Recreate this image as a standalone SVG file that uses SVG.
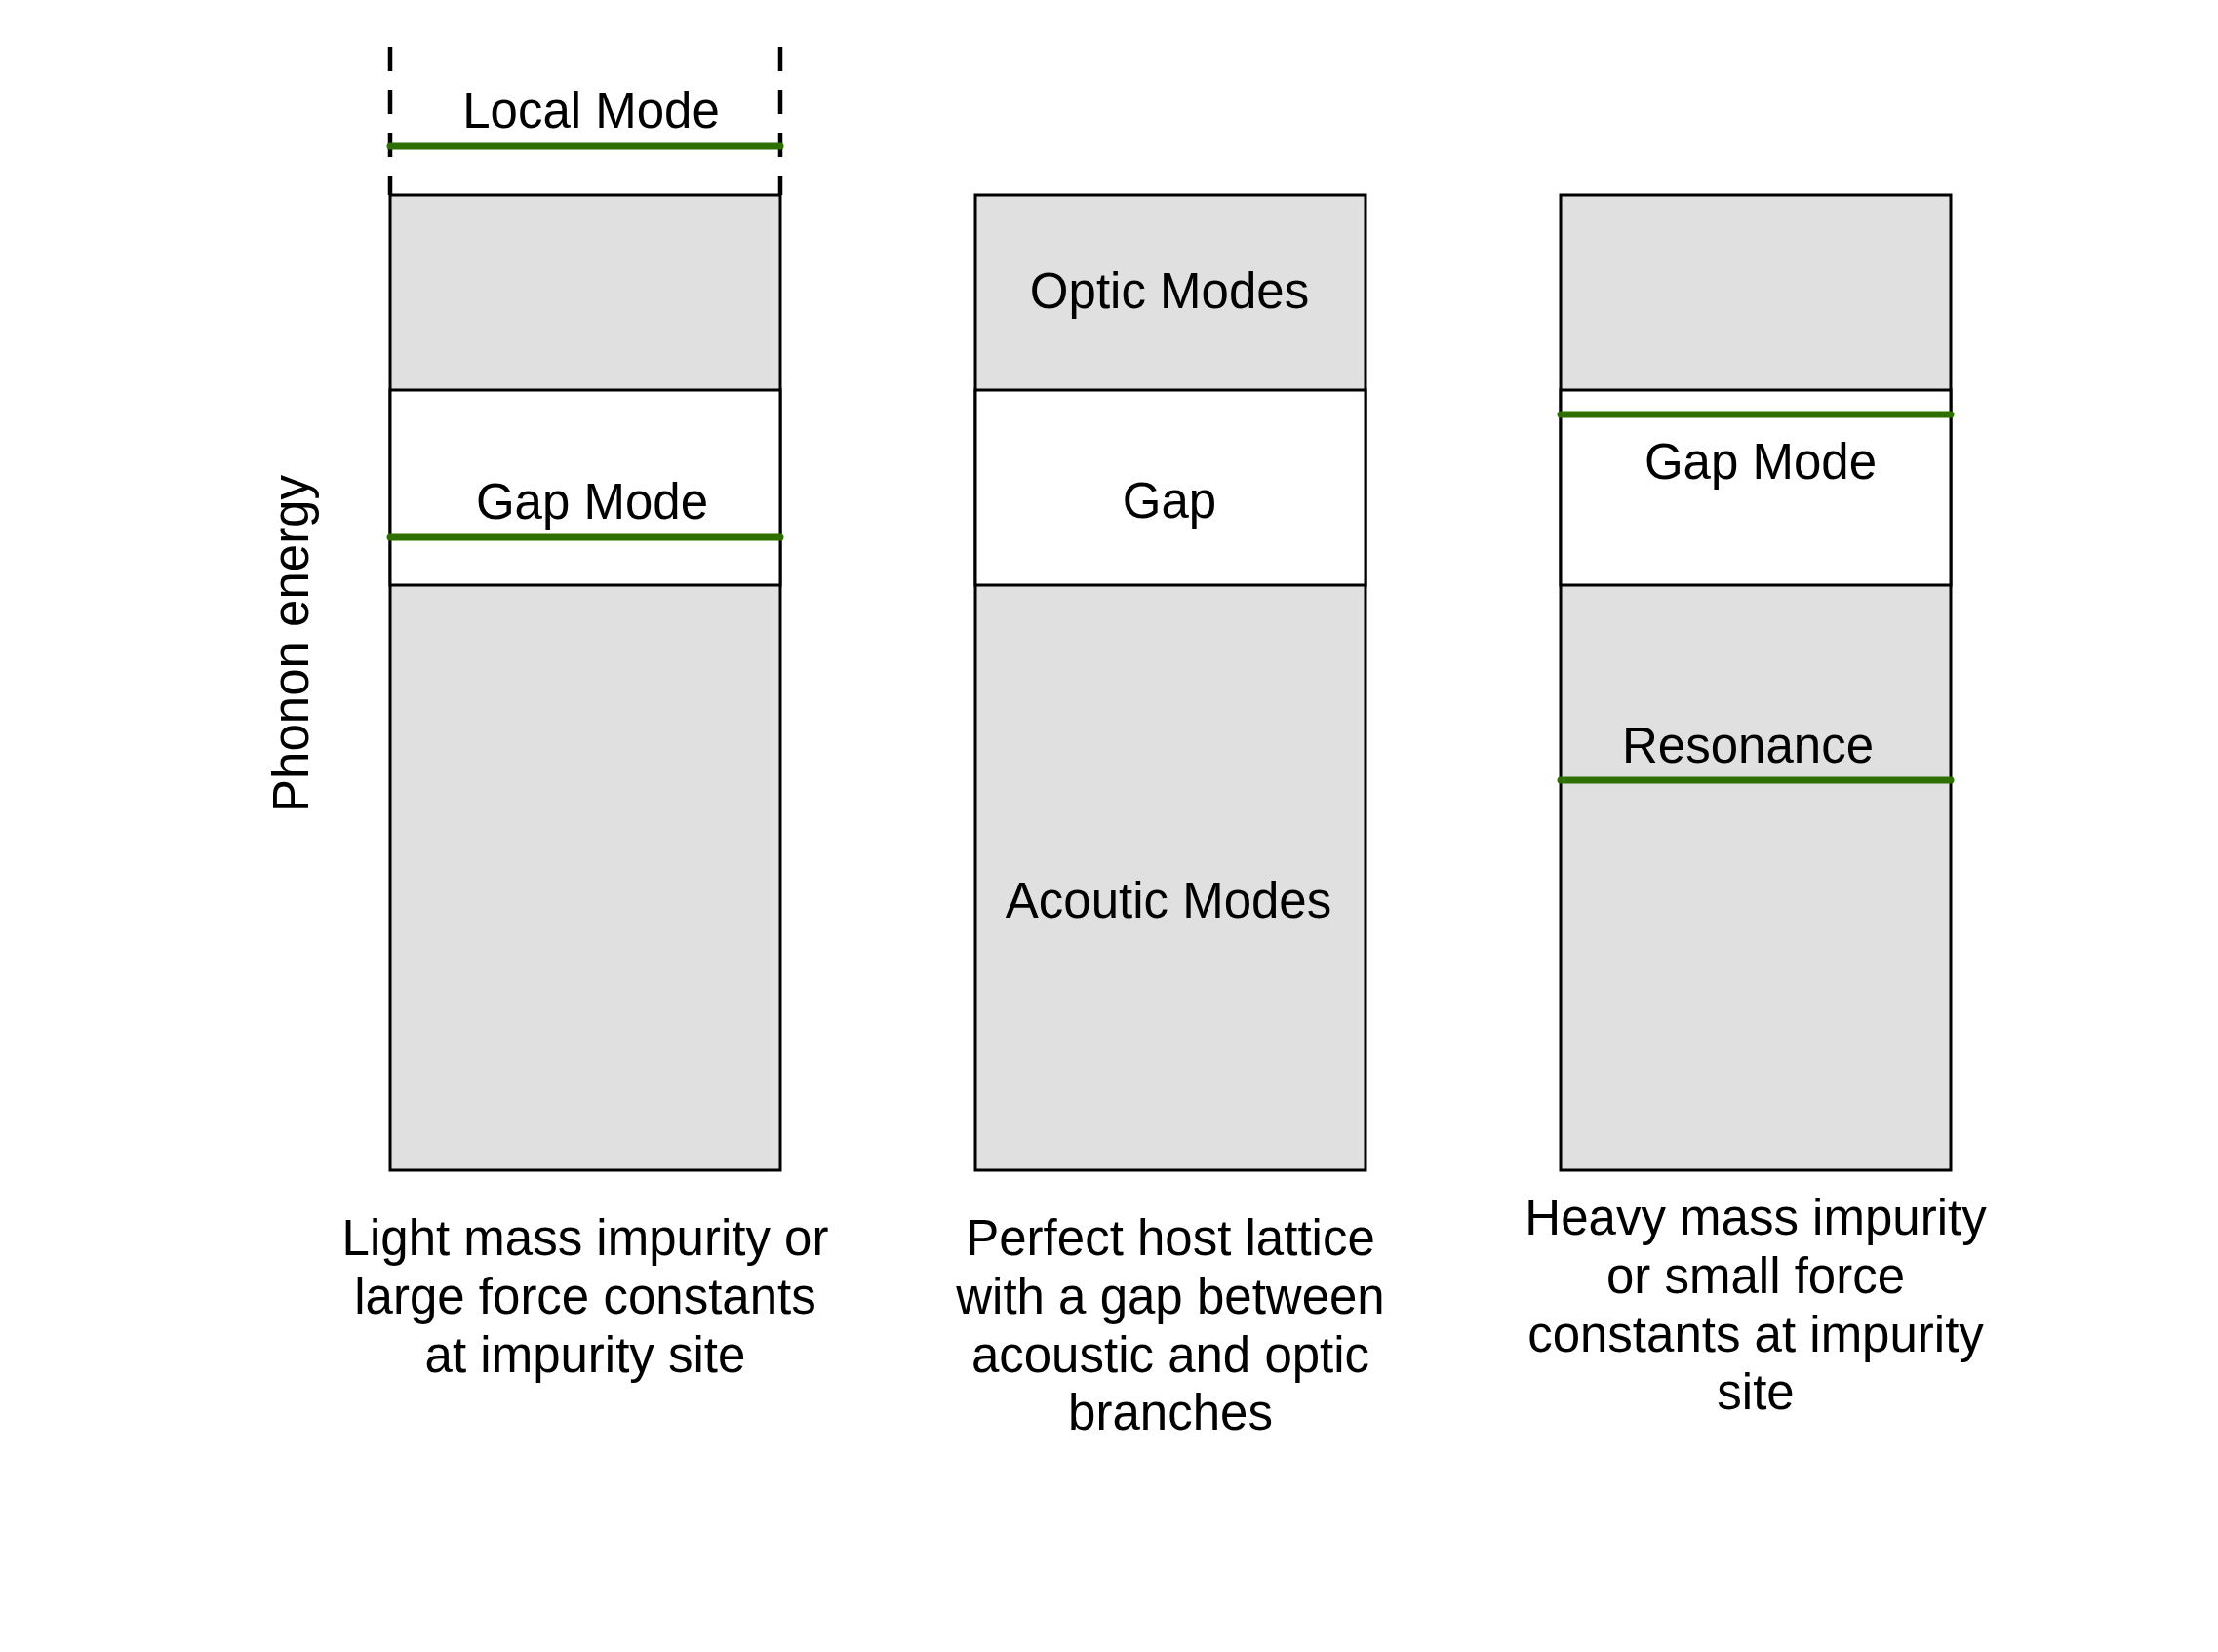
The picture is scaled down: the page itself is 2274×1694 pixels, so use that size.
<svg xmlns="http://www.w3.org/2000/svg" width="2274" height="1694" viewBox="0 0 2274 1694">
<style>
text{font-family:"Liberation Sans",Arial,sans-serif;font-size:51px;fill:#000;text-anchor:middle}
.band{fill:#e0e0e0;stroke:#000;stroke-width:3}
.gap{fill:#fff;stroke:#000;stroke-width:3}
.mode{stroke:#2e7000;stroke-width:7;stroke-linecap:round;fill:none}
.dash{stroke:#000;stroke-width:4.5;stroke-dasharray:25 19;fill:none;stroke-linecap:butt}
</style>
<rect width="2274" height="1694" fill="#fff"/>
<text transform="translate(316,660) rotate(-90)">Phonon energy</text>
<g id="light">
<rect class="band" x="400" y="200" width="400" height="1000"/>
<rect class="gap" x="400" y="400" width="400" height="200"/>
<line class="dash" x1="400" y1="48" x2="400" y2="200"/>
<line class="dash" x1="800" y1="48" x2="800" y2="200"/>
<line class="mode" x1="400" y1="150" x2="800" y2="150"/>
<line class="mode" x1="400" y1="551" x2="800" y2="551"/>
<text x="606" y="131">Local Mode</text>
<text x="607" y="532">Gap Mode</text>
<text x="600" y="1287">Light mass impurity or</text>
<text x="600" y="1347">large force constants</text>
<text x="600" y="1407">at impurity site</text>
</g>
<g id="host">
<rect class="band" x="1000" y="200" width="400" height="1000"/>
<rect class="gap" x="1000" y="400" width="400" height="200"/>
<text x="1199" y="316">Optic Modes</text>
<text x="1199" y="531">Gap</text>
<text x="1198" y="941">Acoutic Modes</text>
<text x="1200" y="1287">Perfect host lattice</text>
<text x="1200" y="1347">with a gap between</text>
<text x="1200" y="1407">acoustic and optic</text>
<text x="1200" y="1466">branches</text>
</g>
<g id="heavy">
<rect class="band" x="1600" y="200" width="400" height="1000"/>
<rect class="gap" x="1600" y="400" width="400" height="200"/>
<line class="mode" x1="1600" y1="425" x2="2000" y2="425"/>
<line class="mode" x1="1600" y1="800" x2="2000" y2="800"/>
<text x="1805" y="491">Gap Mode</text>
<text x="1792" y="782">Resonance</text>
<text x="1800" y="1266">Heavy mass impurity</text>
<text x="1800" y="1326">or small force</text>
<text x="1800" y="1386">constants at impurity</text>
<text x="1800" y="1445">site</text>
</g>
<g id="connectors"></g>
</svg>
